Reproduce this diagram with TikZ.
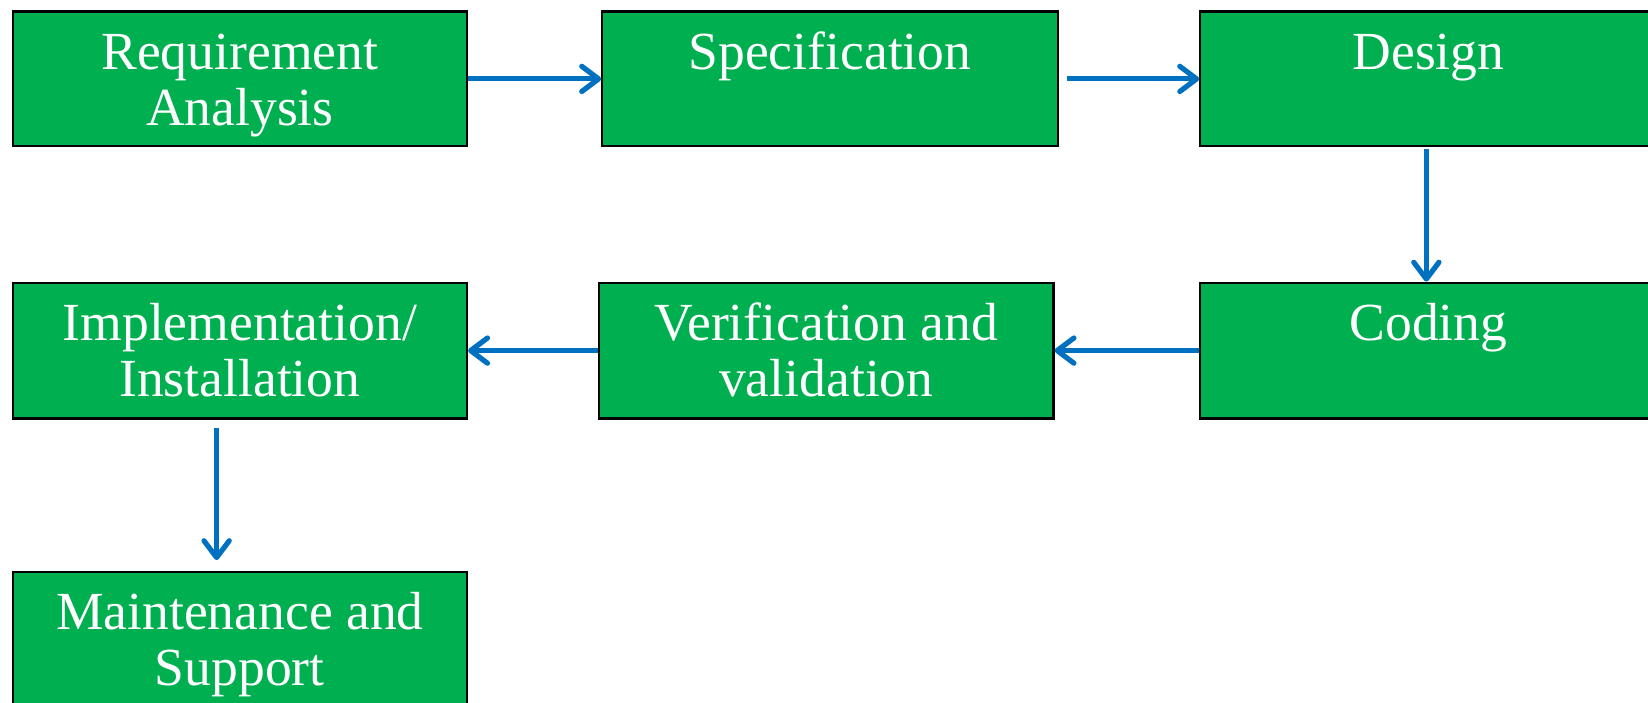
\documentclass[tikz,border=0pt]{standalone}
\usepackage{fontspec}
\setmainfont{Liberation Serif}
\usetikzlibrary{arrows.meta}
\definecolor{stagegreen}{RGB}{0,176,80}
\definecolor{flowblue}{RGB}{0,112,192}
% box text: width, height, lines (set at the top of the box)
\newcommand{\stagetext}[3]{\parbox[c][#2][t]{#1}{\centering\fontsize{14.5}{15.2}\selectfont\rule{0pt}{0.55cm}#3}}
\begin{document}
\begin{tikzpicture}[x=0.01cm,y=-0.01cm,
	stage/.style={draw=black,line width=0.6pt,fill=stagegreen,text=white,inner sep=0pt,anchor=north west},
	flow/.style={draw=flowblue,line width=1.4pt,-{Straight Barb[round,length=1.6mm,width=2.4mm]}}]
	   \path[use as bounding box,clip] (0,0) rectangle (1568,668);
	   \node [stage] (req)    at (11,10)    {\stagetext{4.32cm}{1.28cm}{Requirement\\Analysis}};
	   \node [stage] (spec)   at (572,10)   {\stagetext{4.33cm}{1.28cm}{Specification}};
	   \node [stage] (design) at (1141,10)  {\stagetext{4.8cm}{1.28cm}{\makebox[4.34cm]{Design}\hfill\mbox{}}};
	   \node [stage] (impl)   at (11,268)   {\stagetext{4.32cm}{1.29cm}{Implementation/\\Installation}};
	   \node [stage] (verif)  at (569,268)  {\stagetext{4.32cm}{1.29cm}{Verification and\\validation}};
	   \node [stage] (coding) at (1141,268) {\stagetext{4.8cm}{1.29cm}{\makebox[4.34cm]{Coding}\hfill\mbox{}}};
	   \node [stage] (maint)  at (11,543)   {\stagetext{4.32cm}{1.4cm}{Maintenance and\\Support}};
	   \draw [flow] (req) -- (spec);
	   \draw [flow,shorten <=0.08cm] (spec) -- (design);
	   \draw [flow,shorten <=0.02cm] ([xshift=2.16cm]design.south west) -- ([xshift=2.16cm]coding.north west);
	   \draw [flow] (coding) -- (verif);
	   \draw [flow] (verif) -- (impl);
	   \draw [flow,shorten <=0.08cm,shorten >=0.1cm] ([xshift=1.95cm]impl.south west) -- ([xshift=1.95cm]maint.north west);
\end{tikzpicture}
\end{document}
